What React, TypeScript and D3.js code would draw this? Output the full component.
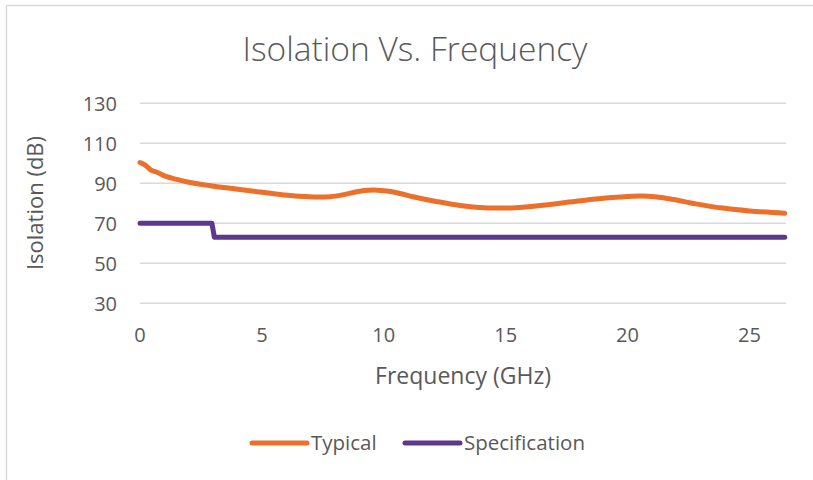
import { useEffect, useRef } from 'react';
import * as d3 from 'd3';

// Typical isolation curve (GHz, dB)
const typicalFreq = [0, 0.2, 0.45, 0.7, 1.1, 1.5, 2.0, 2.9, 3.7, 4.8, 5.9, 6.8, 7.3, 7.8, 8.3, 8.8, 9.2, 9.6, 10.2, 10.7, 11.2, 12.2, 13.2, 14.3, 15.4, 16.5, 17.6, 18.7, 19.7, 20.6, 21.7, 22.8, 23.9, 25.0, 26.45];
const typicalDb = [100.4, 99.2, 96.6, 95.5, 93.3, 92, 90.5, 88.8, 87.5, 85.8, 84.2, 83.4, 83.1, 83.3, 84.2, 85.5, 86.4, 86.7, 86, 84.8, 83.3, 80.8, 78.8, 77.7, 77.8, 79, 80.6, 82.2, 83.2, 83.6, 82.3, 79.7, 77.6, 76.2, 75];

// Specification limit (GHz, dB)
const specFreq = [0, 2.95, 3.05, 26.45];
const specDb = [70, 70, 63, 63];

const xTicks = [0, 5, 10, 15, 20, 25];
const yTicks = [30, 50, 70, 90, 110, 130];

const seriesNames = ['Typical', 'Specification'];
const seriesColors = ['#EC6F2A', '#5D398E'];

const W = 813;
const H = 480;
const FONT = '"Open Sans", "Liberation Sans", sans-serif';
const TEXT = '#595959';

const App = () => {
  const svgRef = useRef<SVGSVGElement>(null);

  useEffect(() => {
    if (!svgRef.current) return;
    const svg = d3.select(svgRef.current);
    svg.selectAll('*').remove();

    const x = d3.scaleLinear().domain([0, 26.5]).range([140, 786]);
    const y = d3.scaleLinear().domain([30, 130]).range([303.3, 103.3]);

    // chart border
    svg.append('rect')
      .attr('x', 6.5).attr('y', 5.5)
      .attr('width', W + 20).attr('height', H + 20)
      .attr('fill', '#fff').attr('stroke', '#D9D9D9').attr('stroke-width', 1.5);

    svg.append('text')
      .attr('x', 415).attr('y', 61)
      .attr('text-anchor', 'middle')
      .attr('font-family', FONT).attr('font-size', 33.5).attr('font-weight', 300)
      .attr('fill', TEXT)
      .text('Isolation Vs. Frequency');

    // gridlines
    svg.append('g').selectAll('line').data(yTicks).join('line')
      .attr('x1', x(0)).attr('x2', 786)
      .attr('y1', (d) => y(d)).attr('y2', (d) => y(d))
      .attr('stroke', '#D9D9D9').attr('stroke-width', 1.5);

    // y tick labels
    svg.append('g').selectAll('text').data(yTicks).join('text')
      .attr('x', 117).attr('y', (d) => y(d))
      .attr('dy', '0.36em')
      .attr('text-anchor', 'end')
      .attr('font-family', FONT).attr('font-size', 20).attr('fill', TEXT)
      .text((d) => d);

    // x tick labels
    svg.append('g').selectAll('text').data(xTicks).join('text')
      .attr('x', (d) => x(d)).attr('y', 342)
      .attr('text-anchor', 'middle')
      .attr('font-family', FONT).attr('font-size', 20).attr('fill', TEXT)
      .text((d) => d);

    // axis titles
    svg.append('text')
      .attr('x', 463).attr('y', 384)
      .attr('text-anchor', 'middle')
      .attr('font-family', FONT).attr('font-size', 23).attr('fill', TEXT)
      .text('Frequency (GHz)');

    svg.append('text')
      .attr('transform', 'translate(43,203) rotate(-90)')
      .attr('text-anchor', 'middle')
      .attr('font-family', FONT).attr('font-size', 22).attr('fill', TEXT)
      .text('Isolation (dB)');

    const line = d3.line<[number, number]>()
      .x((d) => x(d[0]))
      .y((d) => y(d[1]));

    const typical: [number, number][] = typicalFreq.map((f, i) => [f, typicalDb[i]]);
    const spec: [number, number][] = specFreq.map((f, i) => [f, specDb[i]]);

    svg.append('path')
      .attr('d', line(spec) || '')
      .attr('fill', 'none').attr('stroke', seriesColors[1])
      .attr('stroke-width', 5).attr('stroke-linecap', 'round').attr('stroke-linejoin', 'round');

    svg.append('path')
      .attr('d', line.curve(d3.curveCatmullRom.alpha(0.5))(typical) || '')
      .attr('fill', 'none').attr('stroke', seriesColors[0])
      .attr('stroke-width', 5).attr('stroke-linecap', 'round').attr('stroke-linejoin', 'round');

    // legend
    const legendX = [252, 405];
    const legend = svg.append('g').selectAll('g').data(seriesNames).join('g')
      .attr('transform', (_, i) => `translate(${legendX[i]},443)`);
    legend.append('line')
      .attr('x1', 0).attr('x2', 55)
      .attr('stroke', (_, i) => seriesColors[i])
      .attr('stroke-width', 5).attr('stroke-linecap', 'round');
    legend.append('text')
      .attr('x', 59).attr('dy', '0.36em')
      .attr('font-family', FONT).attr('font-size', 20.5).attr('fill', TEXT)
      .text((d) => d);
  }, []);

  return (
    <svg
      ref={svgRef}
      width={W}
      height={H}
      style={{ position: 'absolute', left: 0, top: 0, background: '#fff' }}
    />
  );
};

export default App;
